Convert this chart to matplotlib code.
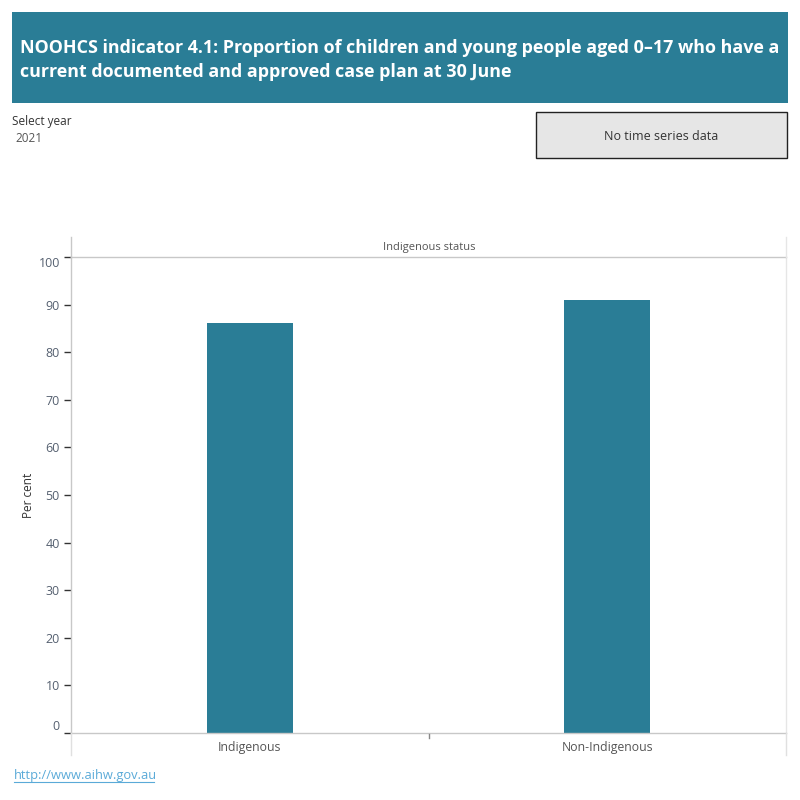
import matplotlib
matplotlib.use("Agg")
import matplotlib.pyplot as plt
from matplotlib.patches import Rectangle

plt.rcParams['font.family'] = ['Open Sans', 'DejaVu Sans']

# data
categories = ["Indigenous", "Non-Indigenous"]
values = [86.1, 91.0]
yticks = [0, 10, 20, 30, 40, 50, 60, 70, 80, 90, 100]
title_lines = "NOOHCS indicator 4.1: Proportion of children and young people aged 0\u201317 who have a\ncurrent documented and approved case plan at 30 June"

teal = "#2a7d96"
grid = "#c8c8c8"

fig = plt.figure(figsize=(8, 8), dpi=100)

def px(x, y):
    # pixel (from top-left) -> figure fraction
    return x / 800, 1 - y / 800

# header banner
x0, y0 = px(12, 103)
fig.patches.append(Rectangle((x0, y0), 776 / 800, 91 / 800, transform=fig.transFigure,
                             facecolor=teal, edgecolor="none"))
fig.text(*px(20, 60), title_lines, color="white", fontsize=12.9, fontweight="bold",
         va="center", ha="left", linespacing=1.4)

# year selector
fig.text(*px(12, 122), "Select year", fontsize=8.5, color="#333333", va="center")
fig.text(*px(15, 138), "2021", fontsize=8.5, color="#555555", va="center")

# no time series box
bx, by = px(536, 158)
fig.patches.append(Rectangle((bx, by), 251 / 800, 46 / 800, transform=fig.transFigure,
                             facecolor="#e6e6e6", edgecolor="#222222", linewidth=1))
fig.text(*px(661, 136), "No time series data", fontsize=9, color="#333333",
         ha="center", va="center")

# main axes
left, bottom = px(71, 733)
ax = fig.add_axes([left, bottom, 715 / 800, 476 / 800])
xpos = [0, 1]
ax.bar(xpos, values, width=0.24, color=teal)
ax.set_xlim(-0.5, 1.5)
ax.set_ylim(0, 100)
ax.set_yticks(yticks)
ax.set_yticklabels([str(t) for t in yticks])
ax.set_xticks(xpos)
ax.set_xticklabels(categories)
ax.tick_params(axis="x", length=0, pad=6, labelsize=8.8, labelcolor="#555555")
ax.tick_params(axis="y", length=5, width=1, color="#333333", pad=3,
               labelsize=9, labelcolor="#556070")
labels = ax.get_yticklabels()
labels[0].set_va("bottom")
labels[-1].set_va("top")
for s in ["top", "bottom", "right", "left"]:
    ax.spines[s].set_color(grid)
    ax.spines[s].set_linewidth(1)
ax.spines["right"].set_color("#e6e6e6")
ax.set_ylabel("")
fig.text(*px(29, 495), "Per cent", rotation=90, fontsize=8.5, color="#333333",
         ha="center", va="center")

# facet header
fig.text(*px(429, 247), "Indigenous status", fontsize=8, color="#555555",
         ha="center", va="center")
for xx, col in [(71, grid), (786, "#e6e6e6")]:
    fig.add_artist(plt.Line2D([xx / 800, xx / 800], [1 - 237 / 800, 1 - 257 / 800],
                              color=col, linewidth=1, transform=fig.transFigure))
    fig.add_artist(plt.Line2D([xx / 800, xx / 800], [1 - 733 / 800, 1 - 755 / 800],
                              color="#e0e0e0", linewidth=1, transform=fig.transFigure))
fig.add_artist(plt.Line2D([429 / 800, 429 / 800], [1 - 734 / 800, 1 - 738 / 800],
                          color="#888888", linewidth=1, transform=fig.transFigure))

# footer link
fig.text(*px(14, 775), "http://www.aihw.gov.au", fontsize=9.3, color="#5aaad8",
         va="center", ha="left")
fig.add_artist(plt.Line2D([14 / 800, 154 / 800], [1 - 782 / 800, 1 - 782 / 800],
                          color="#5aaad8", linewidth=0.8, transform=fig.transFigure))

fig.savefig("out.png", dpi=100)
